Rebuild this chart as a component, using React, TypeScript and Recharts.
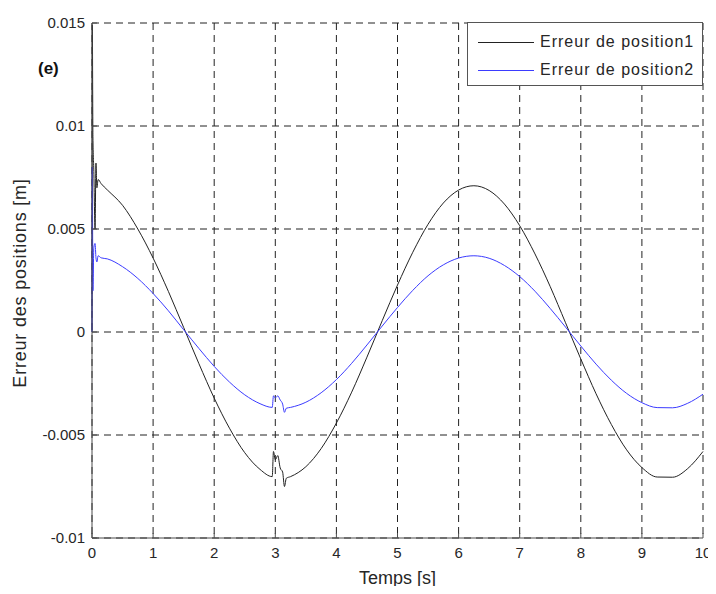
import React from "react";
import { LineChart, Line, XAxis, YAxis, CartesianGrid, Legend } from "recharts";

// temps [s]
const times = [
  0, 0.005, 0.015, 0.03, 0.05, 0.065, 0.08, 0.1, 0.15, 0.25, 0.5, 0.75, 1.0, 1.25, 1.5, 1.75, 2.0, 2.25,
  2.5, 2.75, 2.95, 2.97, 3.0, 3.04, 3.08, 3.12, 3.15, 3.18, 3.25, 3.5, 3.75, 4.0, 4.25, 4.5, 4.75, 5.0,
  5.25, 5.5, 5.75, 6.0, 6.25, 6.5, 6.75, 7.0, 7.25, 7.5, 7.75, 8.0, 8.25, 8.5, 8.75, 9.0, 9.25, 9.5,
  9.75, 10.0,
];

// Erreur de position1
const erreur1 = [
  0, 0.0149, 0.0095, 0.0078, 0.005, 0.0082, 0.007, 0.0074, 0.0072, 0.0069, 0.00615, 0.005, 0.00359,
  0.00197, 0.00022, -0.00154, -0.00321, -0.00467, -0.00586, -0.00667, -0.00702, -0.0058, -0.0062, -0.006,
  -0.0066, -0.0068, -0.0075, -0.0071, -0.00702, -0.00654, -0.00566, -0.00442, -0.00292, -0.00122, 0.00055,
  0.00228, 0.00387, 0.00523, 0.00626, 0.00689, 0.0071, 0.00687, 0.00621, 0.00516, 0.00379, 0.0022,
  0.00045, -0.00131, -0.003, -0.00449, -0.00572, -0.00658, -0.00704, -0.00705, -0.00663, -0.0058,
];

// Erreur de position2
const erreur2 = [
  0, 0.008, 0.002, 0.0041, 0.0043, 0.0036, 0.0034, 0.0037, 0.0036, 0.00355, 0.00317, 0.0026, 0.00187,
  0.00103, 0.00011, -0.0008, -0.00167, -0.00243, -0.00305, -0.00348, -0.00366, -0.0031, -0.0032, -0.0031,
  -0.0033, -0.0035, -0.0039, -0.0037, -0.00366, -0.00341, -0.00295, -0.00231, -0.00152, -0.00063, 0.00029,
  0.00119, 0.00202, 0.00273, 0.00326, 0.00359, 0.0037, 0.00358, 0.00323, 0.00269, 0.00198, 0.00114,
  0.00024, -0.00068, -0.00156, -0.00234, -0.00298, -0.00343, -0.00367, -0.00368, -0.00346, -0.00302,
];

const xTicks = [0, 1, 2, 3, 4, 5, 6, 7, 8, 9, 10];
const yTicks = [-0.01, -0.005, 0, 0.005, 0.01, 0.015];

const data = times.map((t, i) => ({ t, p1: erreur1[i], p2: erreur2[i] }));

const FONT = "'Liberation Sans', Arial, sans-serif";
const TXT = "#262626";
const AX = "#4d4d4d";

const XTick = ({ x, y, payload }: any) => (
  <g>
    <line x1={x} y1={y} x2={x} y2={y - 5} stroke={AX} />
    <text x={x} y={y + 20} textAnchor="middle" fontSize={15} fill={TXT} fontFamily={FONT}>
      {payload.value}
    </text>
  </g>
);

const YTick = ({ x, y, payload }: any) => (
  <g>
    <line x1={x} y1={y} x2={x + 5} y2={y} stroke={AX} />
    <text x={x - 7} y={y + 5} textAnchor="end" fontSize={15} fill={TXT} fontFamily={FONT}>
      {String(payload.value)}
    </text>
  </g>
);

const TopTick = ({ x, y }: any) => <line x1={x} y1={y} x2={x} y2={y + 5} stroke={AX} />;
const RightTick = ({ x, y }: any) => <line x1={x} y1={y} x2={x - 5} y2={y} stroke={AX} />;

const LegendBox = () => (
  <div
    style={{
      width: 236,
      height: 64,
      border: "1px solid #555",
      background: "#fff",
      fontFamily: FONT,
      fontSize: 16,
      letterSpacing: 1,
      color: TXT,
      boxSizing: "border-box",
      paddingTop: 5,
      textAlign: "left",
    }}
  >
    {[
      { name: "Erreur de position1", color: "#222" },
      { name: "Erreur de position2", color: "#3b3bff" },
    ].map((it) => (
      <div key={it.name} style={{ display: "flex", alignItems: "center", height: 28 }}>
        <span style={{ display: "inline-block", width: 56, height: 0, borderTop: `1px solid ${it.color}`, marginLeft: 10, marginRight: 6 }} />
        <span>{it.name}</span>
      </div>
    ))}
  </div>
);

export default function App() {
  return (
    <div style={{ position: "relative", width: 716, height: 594, margin: -8, background: "#fff" }}>
      <LineChart width={716} height={594} data={data} margin={{ top: 23, right: 13, bottom: 0, left: 0 }}>
        <CartesianGrid xAxisId="b" yAxisId="l" stroke="#222" strokeDasharray="7 5" horizontalValues={yTicks} verticalValues={xTicks} />
        <XAxis
          xAxisId="b"
          dataKey="t"
          type="number"
          domain={[0, 10]}
          ticks={xTicks}
          height={56}
          tickSize={0}
          tickMargin={0}
          tick={<XTick />}
          axisLine={{ stroke: AX }}
          label={{ value: "Temps [s]", position: "insideBottom", offset: 10, fontSize: 18, fill: TXT, fontFamily: FONT }}
        />
        <XAxis xAxisId="t" orientation="top" dataKey="t" type="number" domain={[0, 10]} ticks={xTicks} height={0} tickSize={0} tickMargin={0} tick={<TopTick />} axisLine={{ stroke: AX }} />
        <YAxis
          yAxisId="l"
          type="number"
          domain={[-0.01, 0.015]}
          ticks={yTicks}
          width={92}
          tickSize={0}
          tickMargin={0}
          tick={<YTick />}
          axisLine={{ stroke: AX }}
          allowDataOverflow
        />
        <YAxis yAxisId="r" orientation="right" type="number" domain={[-0.01, 0.015]} ticks={yTicks} width={0} tickSize={0} tickMargin={0} tick={<RightTick />} axisLine={{ stroke: AX }} />
        <Legend
          layout="horizontal"
          verticalAlign="middle"
          align="center"
          content={<LegendBox />}
          wrapperStyle={{ position: "absolute", top: 22, left: 467, width: 236, height: 64 }}
        />
        <Line xAxisId="b" yAxisId="l" type="monotone" dataKey="p1" name="Erreur de position1" stroke="#222" strokeWidth={1} dot={false} isAnimationActive={false} />
        <Line xAxisId="b" yAxisId="l" type="monotone" dataKey="p2" name="Erreur de position2" stroke="#3b3bff" strokeWidth={1} dot={false} isAnimationActive={false} />
      </LineChart>
      <svg width={716} height={594} style={{ position: "absolute", left: 0, top: 0, pointerEvents: "none", overflow: "visible" }}>
        <text x={38} y={74} fontSize={17} fontWeight="bold" fill="#111" fontFamily={FONT}>
          (e)
        </text>
        <text
          transform="translate(26, 283) rotate(-90)"
          textAnchor="middle"
          fontSize={18}
          letterSpacing={0.8}
          fill={TXT}
          fontFamily={FONT}
        >
          Erreur des positions [m]
        </text>
      </svg>
    </div>
  );
}
